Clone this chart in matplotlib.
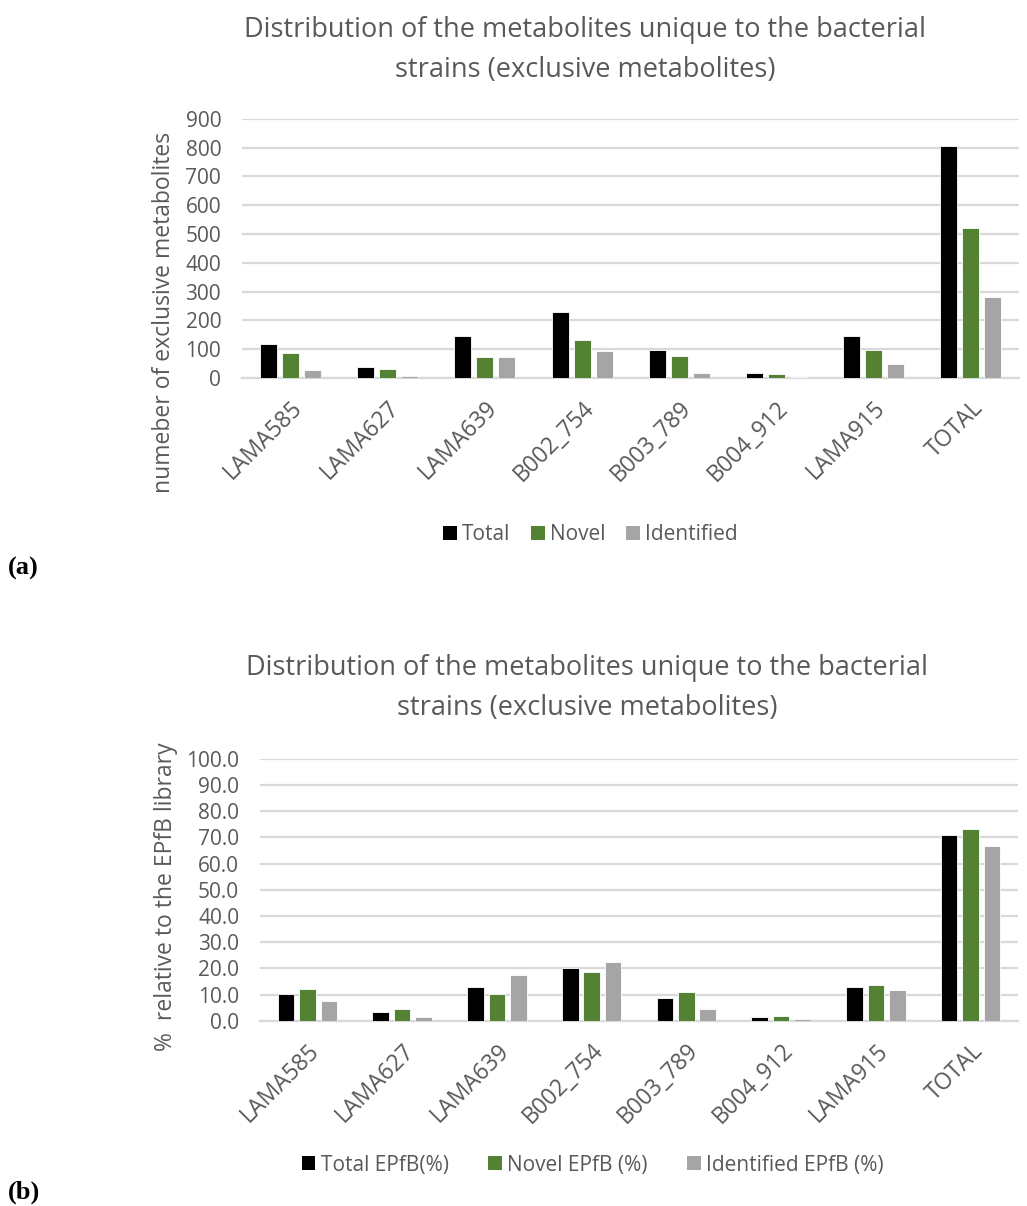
import numpy as np
import matplotlib.pyplot as plt
from matplotlib.patches import Patch
from matplotlib.ticker import FormatStrFormatter

plt.rcParams['font.family'] = ['Open Sans', 'DejaVu Sans']

strains = ['LAMA585', 'LAMA627', 'LAMA639', 'B002_754', 'B003_789', 'B004_912', 'LAMA915', 'TOTAL']

# panel (a): counts of exclusive metabolites
total_n = [117, 38, 146, 228, 98, 17, 146, 806]
novel_n = [85, 31, 72, 132, 78, 14, 97, 521]
ident_n = [29, 6, 73, 95, 17, 5, 49, 283]

# panel (b): share of the EPfB library (%)
total_pct = [10.2, 3.4, 12.9, 20.0, 8.7, 1.5, 12.9, 71.0]
novel_pct = [12.1, 4.5, 10.2, 18.6, 11.1, 2.0, 13.6, 73.2]
ident_pct = [7.4, 1.5, 17.6, 22.4, 4.5, 0.6, 11.6, 66.9]

labels_a = ['Total', 'Novel', 'Identified']
labels_b = ['Total EPfB(%)', 'Novel EPfB (%)', 'Identified EPfB (%)']
colors = ['#000000', '#548235', '#A5A5A5']
title = 'Distribution of the metabolites unique to the bacterial\nstrains (exclusive metabolites)'
txt = '#595959'
grid = '#D9D9D9'

fig = plt.figure(figsize=(10.27, 12.06), dpi=100)


def bar_panel(rect, series, ymax, step, fmt):
    ax = fig.add_axes(rect)
    x = np.arange(len(strains))
    w = 0.175
    for i, (vals, c) in enumerate(zip(series, colors)):
        ax.bar(x + (i - 1) * 0.226, vals, width=w, color=c, edgecolor='white', linewidth=0.6, zorder=3)
    ax.set_xlim(-0.5, len(strains) - 0.5)
    ax.set_ylim(0, ymax)
    ax.set_yticks(np.arange(0, ymax + step / 2, step))
    ax.yaxis.set_major_formatter(FormatStrFormatter(fmt))
    ax.grid(axis='y', color=grid, linewidth=1.6, zorder=0)
    for s in ['top', 'right', 'left']:
        ax.spines[s].set_visible(False)
    ax.spines['bottom'].set_color(grid)
    ax.spines['bottom'].set_linewidth(1.6)
    ax.tick_params(length=0, labelcolor=txt)
    ax.tick_params(axis='y', labelsize=15, pad=15)
    ax.set_xticks(x)
    ax.set_xticklabels(strains, rotation=45, ha='right', rotation_mode='anchor')
    ax.tick_params(axis='x', labelsize=16.5, pad=13)
    return ax


ax1 = bar_panel([0.2356, 0.6866, 0.757, 0.2148], [total_n, novel_n, ident_n], 900, 100, '%d')
ax2 = bar_panel([0.2532, 0.1536, 0.738, 0.2172], [total_pct, novel_pct, ident_pct], 100, 10, '%.1f')

fig.text(0.570, 1 - 50 / 1206, title, ha='center', va='center', fontsize=19.5, color=txt, linespacing=1.55)
fig.text(0.572, 1 - 688 / 1206, title, ha='center', va='center', fontsize=19.5, color=txt, linespacing=1.55)

fig.text(0.160, 1 - 312 / 1206, 'numeber of exclusive metabolites', rotation=90, ha='center', va='center',
         fontsize=16.5, color=txt)
fig.text(0.162, 1 - 897 / 1206, '%  relative to the EPfB library', rotation=90, ha='center', va='center',
         fontsize=16.5, color=txt)

handles = [Patch(facecolor=c) for c in colors]
fig.legend(handles, labels_a, loc='center', bbox_to_anchor=(0.575, 1 - 535 / 1206), ncol=3, frameon=False,
           fontsize=15, handlelength=0.65, handleheight=0.65, handletextpad=0.25, columnspacing=1.0,
           labelcolor=txt)
fig.legend(handles, labels_b, loc='center', bbox_to_anchor=(0.577, 1 - 1165 / 1206), ncol=3, frameon=False,
           fontsize=15, handlelength=0.65, handleheight=0.65, handletextpad=0.25, columnspacing=1.9,
           labelcolor=txt)

fig.text(0.008, 1 - 568 / 1206, '(a)', ha='left', va='center', fontsize=19, fontweight='bold',
         family='Liberation Serif')
fig.text(0.008, 1 - 1192 / 1206, '(b)', ha='left', va='center', fontsize=19, fontweight='bold',
         family='Liberation Serif')

fig.savefig('out.png', dpi=100)
